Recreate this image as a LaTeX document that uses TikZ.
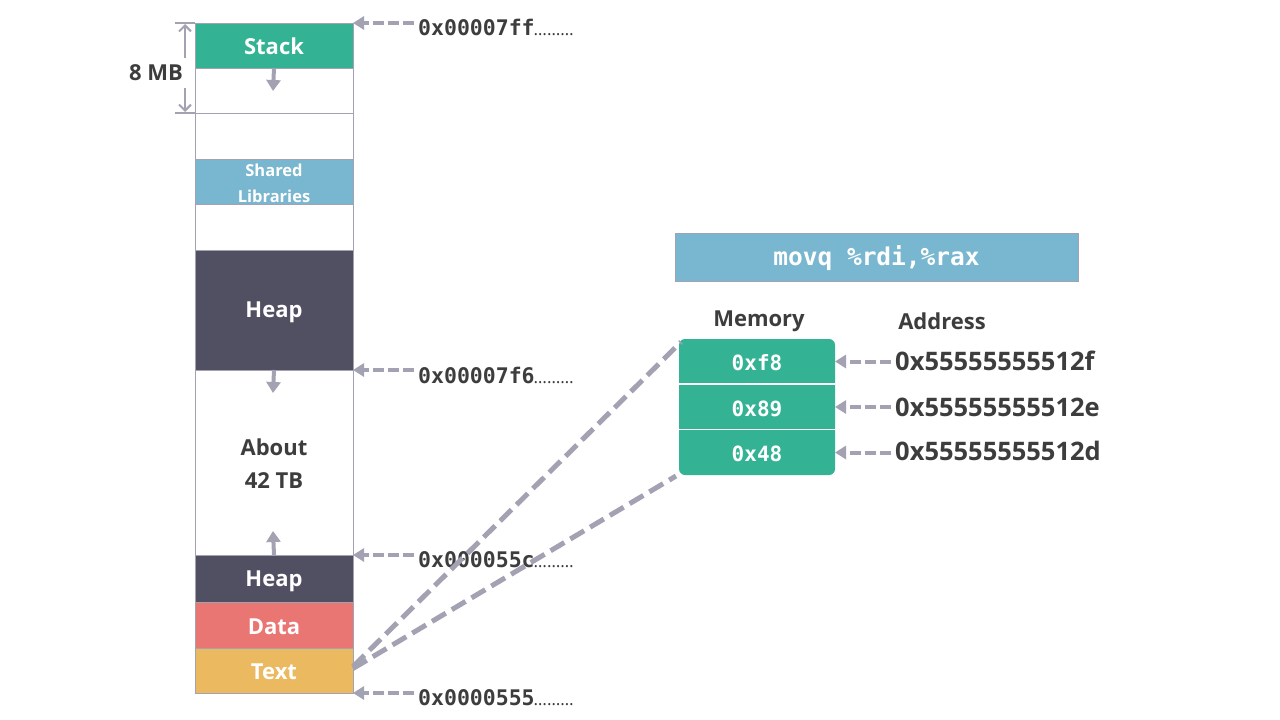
\documentclass[tikz,border=0pt]{standalone}
\usepackage{fontspec}
\setmainfont{Open Sans}
\newfontfamily\monof{DejaVu Sans Mono}
\usetikzlibrary{arrows.meta}
\definecolor{cgreen}{HTML}{33B394}
\definecolor{cblue}{HTML}{79B6CF}
\definecolor{cdark}{HTML}{515063}
\definecolor{cred}{HTML}{E97673}
\definecolor{cyellow}{HTML}{EBB960}
\definecolor{cborder}{HTML}{A3A2B3}
\definecolor{cdash}{HTML}{A3A2B3}
\definecolor{ctext}{HTML}{3D3D3D}
\begin{document}
\begin{tikzpicture}[x=1pt,y=-1pt,
  seg/.style={draw=cborder, line width=1pt, minimum width=158pt, inner sep=0pt, outer sep=0pt},
  segtxt/.style={inner sep=0pt, font=\bfseries\fontsize{22}{26}\selectfont, text=white, align=center},
  ptr/.style={draw=cdash, line width=4pt, dash pattern=on 11pt off 4pt,
    -{Triangle[length=11pt,width=13pt]}},
  small/.style={draw=cdash, line width=4pt, -{Triangle[length=11pt,width=14pt]}},
  dim/.style={draw=cdash, line width=2pt, -{Straight Barb[length=6pt,width=12pt]}},
  link/.style={draw=cdash, line width=5pt, dash pattern=on 16pt off 7pt},
  addr/.style={anchor=west, inner sep=4pt, text=ctext, font=\monof\bfseries\fontsize{21.5}{24}\selectfont},
  memcell/.style={minimum width=156pt, minimum height=45pt, inner sep=0pt, outer sep=0pt},
  memtxt/.style={inner sep=0pt, text=white, font=\monof\bfseries\fontsize{21}{24}\selectfont},
  hex/.style={anchor=west, inner sep=4pt, text=ctext, font=\bfseries\fontsize{25.5}{28}\selectfont},
  head/.style={text=ctext, font=\bfseries\fontsize{22}{26}\selectfont}
]
\useasboundingbox (0,0) rectangle (1280,720);
\fill[white] (0,0) rectangle (1280,720);

% memory column
\node[seg, fill=cgreen, minimum height=45pt] (stack) at (274,45.5) {};
\node[seg, minimum height=45pt] (gap1) at (274,90.5) {};
\node[seg, minimum height=46pt] (gap2) at (274,136) {};
\node[seg, fill=cblue, minimum height=45pt] (shlib) at (274,181.5) {};
\node[seg, minimum height=46pt] (gap3) at (274,227) {};
\node[seg, fill=cdark, minimum height=120pt] (heap1) at (274,310) {};
\node[seg, minimum height=185pt] (about) at (274,462.5) {};
\node[seg, fill=cdark, minimum height=47pt] (heap2) at (274,578.5) {};
\node[seg, fill=cred, minimum height=46pt] (data) at (274,625) {};
\node[seg, fill=cyellow, minimum height=45pt] (text) at (274,670.5) {};

\node[segtxt] (tstack) at ([yshift=-1pt]stack.center) {Stack};
\node[segtxt, font=\bfseries\fontsize{16.5}{26}\selectfont] (tshlib) at ([yshift=-1.5pt]shlib.center) {Shared\\Libraries};
\node[segtxt] (theap1) at ([yshift=-2pt]heap1.center) {Heap};
\node[segtxt, text=ctext, font=\bfseries\fontsize{22}{33}\selectfont] (tabout) at ([yshift=-1pt]about.center) {About\\42 TB};
\node[segtxt] (theap2) at ([yshift=-3pt]heap2.center) {Heap};
\node[segtxt] (tdata) at ([yshift=-2pt]data.center) {Data};
\node[segtxt] (ttext) at ([yshift=-1pt]text.center) {Text};

% growth arrows
\coordinate (sa) at (273,91);
\draw[small] (stack.south) -- (sa);
\coordinate (ha) at (273,393);
\draw[small] (heap1.south) -- (ha);
\coordinate (hb) at (273,531);
\draw[small] (heap2.north) -- (hb);

% 8 MB dimension
\coordinate (d1) at (175,23);
\coordinate (d2) at (175,113);
\draw[cdash, line width=2pt] (d1) -- (stack.north west);
\draw[cdash, line width=2pt] (d2) -- (gap1.south west);
\node[head, anchor=east, inner sep=0pt] (mb) at (183,73) {8 MB};
\coordinate (u1) at (185,58);
\coordinate (u2) at (185,24);
\coordinate (l1) at (185,88);
\coordinate (l2) at (185,112);
\draw[dim] (u1) -- (u2);
\draw[dim] (l1) -- (l2);

% address labels on column
\node[addr] (a1) at (414,27) {0x00007ff\kern-1pt{\normalfont\mdseries\fontsize{17}{20}\selectfont\dots\dots\dots}};
\node[addr] (a2) at (414,375) {0x00007f6\kern-1pt{\normalfont\mdseries\fontsize{17}{20}\selectfont\dots\dots\dots}};
\node[addr] (a3) at (414,560) {0x000055c\kern-1pt{\normalfont\mdseries\fontsize{17}{20}\selectfont\dots\dots\dots}};
\node[addr] (a4) at (414,698) {0x0000555\kern-1pt{\normalfont\mdseries\fontsize{17}{20}\selectfont\dots\dots\dots}};
\draw[ptr] (a1.west |- stack.north east) -- (stack.north east);
\draw[ptr] (a2.west |- heap1.south east) -- (heap1.south east);
\draw[ptr] (a3.west |- heap2.north east) -- (heap2.north east);
\draw[ptr] (a4.west |- text.south east) -- (text.south east);

% instruction
\node[fill=cblue, draw=cborder, line width=0.8pt, minimum width=403pt, minimum height=48pt, inner sep=0pt] (instr) at (876.5,257) {};
\node[inner sep=0pt, text=white, font=\monof\bfseries\fontsize{24.5}{26}\selectfont] (tinstr) at ([yshift=-1.5pt]instr.center) {movq \%rdi,\%rax};

\node[head] (memh) at (759,321) {Memory};
\node[head] (addrh) at (942,321) {Address};

% memory cells
\node[memcell] (m1) at (757,361.5) {};
\node[memcell] (m2) at (757,407) {};
\node[memcell] (m3) at (757,452.5) {};
\fill[cgreen, rounded corners=6pt] (m1.north west) rectangle (m3.south east);
\draw[white, line width=1.2pt] (m1.south west) -- (m1.south east);
\draw[white, line width=1.2pt] (m2.south west) -- (m2.south east);
\node[memtxt] (t1) at ([yshift=-1.5pt]m1.center) {0xf8};
\node[memtxt] (t2) at ([yshift=-1.5pt]m2.center) {0x89};
\node[memtxt] (t3) at ([yshift=-1.5pt]m3.center) {0x48};

\node[hex] (h1) at (891,361) {0x55555555512f};
\node[hex] (h2) at (891,407) {0x55555555512e};
\node[hex] (h3) at (891,451) {0x55555555512d};
\draw[ptr] (h1.west |- m1.east) -- (m1.east);
\draw[ptr] (h2.west |- m2.east) -- (m2.east);
\draw[ptr] (h3.west |- m3.east) -- (m3.east);

% links from text segment to memory
\draw[link] ([yshift=4pt]text.east) -- ([xshift=2pt,yshift=-3pt]m1.north west);
\draw[link] ([yshift=2pt]text.east) -- ([xshift=-3pt,yshift=-1pt]m3.south west);
\end{tikzpicture}
\end{document}
